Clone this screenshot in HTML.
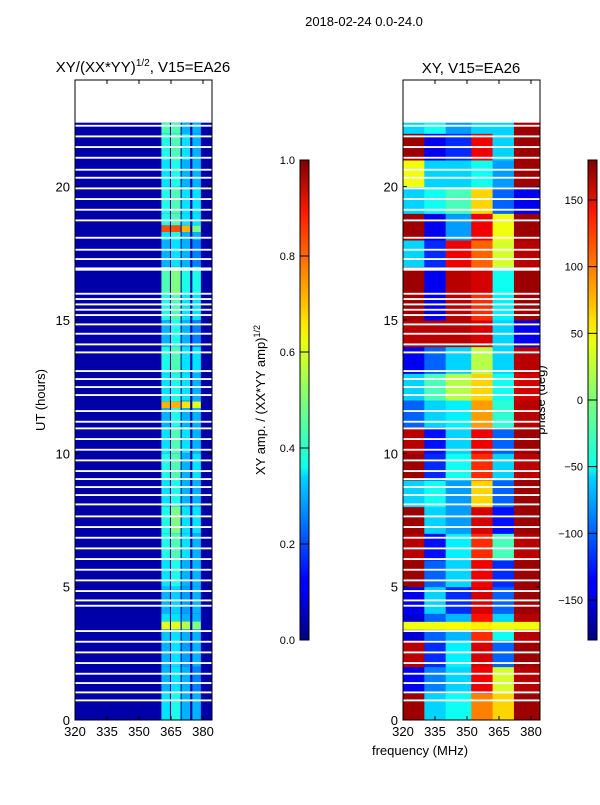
<!DOCTYPE html>
<html><head><meta charset="utf-8">
<style>
body{margin:0;background:#fff;font-family:"Liberation Sans",sans-serif;}
svg text{font-family:"Liberation Sans","DejaVu Sans",sans-serif;fill:#000;}
</style></head>
<body>
<svg id="fig" width="600" height="800" viewBox="0 0 600 800" xmlns="http://www.w3.org/2000/svg">
<defs>
<linearGradient id="jet" x1="0" y1="1" x2="0" y2="0">
<stop offset="0" stop-color="#00007f"/><stop offset="0.11" stop-color="#0000ff"/>
<stop offset="0.125" stop-color="#0000ff"/><stop offset="0.34" stop-color="#00d4ff"/>
<stop offset="0.36" stop-color="#0dffe9"/><stop offset="0.5" stop-color="#7dff7a"/>
<stop offset="0.62" stop-color="#e9ff0d"/><stop offset="0.66" stop-color="#ffe500"/>
<stop offset="0.89" stop-color="#ff1a00"/><stop offset="1" stop-color="#7f0000"/>
</linearGradient>
</defs>
<text x="364" y="26" font-size="13" text-anchor="middle">2018-02-24 0.0-24.0</text>
<text x="143" y="72" font-size="15" text-anchor="middle">XY/(XX*YY)<tspan font-size="10" dy="-6">1/2</tspan><tspan dy="6">, V15=EA26</tspan></text>
<text x="471" y="73" font-size="15" text-anchor="middle">XY, V15=EA26</text>
<text transform="translate(45,400) rotate(-90)" font-size="13" text-anchor="middle">UT (hours)</text>
<text transform="translate(265,400) rotate(-90)" font-size="13" text-anchor="middle">XY amp. / (XX*YY amp)<tspan font-size="9" dy="-5">1/2</tspan></text>
<text transform="translate(545,400) rotate(-90)" font-size="13" text-anchor="middle">phase (deg)</text>
<text x="420" y="755" font-size="13" text-anchor="middle">frequency (MHz)</text>
<g id="left"></g>
<g id="right"></g>
<g id="cb1"></g>
<g id="cb2"></g>
</svg>
<script>
// ---- data ----
const gapHours = [22.25,21.85,21.45,21.05,20.6,20.3,19.9,19.5,19.1,18.7,18.05,17.6,17.25,16.9,16.85,15.95,15.75,15.55,15.35,15.15,14.8,14.45,14.05,13.75,13.05,12.75,12.45,12.15,11.55,11.15,10.9,10.5,10.1,9.7,9.3,9.0,8.7,8.4,8.05,7.6,7.2,6.8,6.4,6.0,5.6,5.2,4.8,4.45,4.25,3.3,2.9,2.5,2.1,1.7,1.35,1.0,0.7];
const ampBandMHz = [[360.5,364.5],[365,369.5],[370,374],[375,379]];
const ampRowHours = [0,1,2,3,3.4,3.7,4,5,6,7,8,9,10,11,11.7,11.95,12,13,14,15,16,17,18,18.3,18.55,19,20,21,22];
const ampRowValues = [
 [0.35,0.4,0.3,0.3],[0.3,0.35,0.3,0.25],[0.3,0.35,0.28,0.3],[0.32,0.35,0.3,0.3],
 [0.6,0.6,0.55,0.5],[0.35,0.35,0.3,0.3],[0.3,0.33,0.28,0.3],[0.35,0.4,0.3,0.3],
 [0.4,0.45,0.35,0.3],[0.4,0.5,0.35,0.35],[0.35,0.4,0.3,0.3],[0.4,0.45,0.3,0.35],
 [0.35,0.45,0.35,0.3],[0.3,0.4,0.3,0.3],[0.7,0.7,0.65,0.6],[0.35,0.4,0.3,0.3],
 [0.35,0.4,0.35,0.3],[0.4,0.45,0.35,0.35],[0.3,0.4,0.3,0.25],[0.4,0.45,0.35,0.35],
 [0.45,0.5,0.4,0.4],[0.3,0.35,0.3,0.25],[0.35,0.4,0.3,0.3],[0.8,0.8,0.7,0.5],
 [0.4,0.45,0.35,0.35],[0.4,0.45,0.35,0.35],[0.35,0.4,0.3,0.3],[0.4,0.45,0.35,0.3],[0.45,0.45,0.3,0.3]];
const ampBackground = 0.04;
const phaseColMHz = [320,330,340,352,362,372,384.2];
const phaseRowHours = [0,1,2,3,3.4,3.7,4,5,6,7,8,9,10,11,12,13,14,15,16,17,18,19,20,21,22];
const phaseValues = [
 [170,-60,-40,90,60,170],[-140,-90,-60,140,30,160],[160,-120,-50,150,-100,170],
 [-150,-100,-70,120,-40,160],[40,40,45,50,40,40],[-150,-100,-70,130,-60,160],
 [-140,-60,-120,150,-100,170],[170,-100,-60,140,-120,170],[160,-130,-50,120,-20,160],
 [170,-60,-80,150,-130,170],[-60,-40,-80,60,-100,170],[170,-120,-40,120,-60,160],
 [160,-130,-60,140,-100,170],[-100,-60,-50,80,-30,160],[-60,-20,20,60,-40,150],
 [-140,-100,-60,20,-60,160],[160,160,160,150,-60,-140],[170,-140,160,120,-50,170],
 [170,-140,160,150,-40,170],[-60,-120,140,100,30,160],[170,-140,-80,140,40,170],
 [-60,-40,-20,60,-100,-140],[40,-60,-60,-40,-80,170],[170,-140,-120,140,-60,170],[-60,-40,-80,-60,-60,170]];
const dataTop = 22.4;
const xTicks = [320,335,350,365,380];
const yTicks = [0,5,10,15,20];
const ampTicks = [0.0,0.2,0.4,0.6,0.8,1.0];
const phaseTicks = [-150,-100,-50,0,50,100,150];

// ---- helpers ----
const NS="http://www.w3.org/2000/svg";
function jet(v){v=Math.max(0,Math.min(1,v));
 const f=(x)=>Math.max(0,Math.min(1,1.5-Math.abs(4*v-x)));
 return `rgb(${Math.round(255*f(3))},${Math.round(255*f(2))},${Math.round(255*f(1))})`;}
function mk(parent,tag,attrs){const e=document.createElementNS(NS,tag);for(const k in attrs)e.setAttribute(k,attrs[k]);parent.appendChild(e);return e;}
const Y0=720,Y1=80,HMAX=24;
const yS=h=>Y0-(h/HMAX)*(Y0-Y1);
function xS(x0){return m=>x0+(m-320)*(128/60);}
const xL=xS(75), xR=xS(403);
const PW=137;

function axes(g,x0,xs,pre){
 mk(g,'rect',{x:x0,y:Y1,width:PW,height:Y0-Y1,fill:'none',stroke:'#000','stroke-width':1});
 xTicks.forEach(t=>{const x=xs(t);
  const l=mk(g,'line',{x1:x,x2:x,y1:Y0,y2:Y0-4,stroke:'#000'});
  
  
  mk(g,'line',{x1:x,x2:x,y1:Y1,y2:Y1+4,stroke:'#000'});
  const tx=mk(g,'text',{x:x,y:Y0+16,'font-size':13,'text-anchor':'middle'});tx.textContent=t;
  
  
 });
 yTicks.forEach(t=>{const y=yS(t);
  mk(g,'line',{x1:x0,x2:x0+4,y1:y,y2:y,stroke:'#000'});
  mk(g,'line',{x1:x0+PW-4,x2:x0+PW,y1:y,y2:y,stroke:'#000'});
  const tx=mk(g,'text',{x:x0-5,y:y+5,'font-size':13,'text-anchor':'end'});tx.textContent=t;
  
  
 });
}
function gaps(g,x0){
 gapHours.forEach(h=>{const r=mk(g,'rect',{x:x0,y:yS(h+0.07),width:PW,height:Math.max(1.5,yS(h)-yS(h+0.07)),fill:'#fff'});
  
  });
}
// left amplitude panel
const L=document.getElementById('left');
const bg=mk(L,'rect',{x:75,y:yS(dataTop),width:PW,height:yS(0)-yS(dataTop),fill:jet(ampBackground)});


ampRowHours.forEach((h,i)=>{const h2=i+1<ampRowHours.length?ampRowHours[i+1]:dataTop;
 ampBandMHz.forEach((b,j)=>{const c=mk(L,'rect',{x:xL(b[0]),y:yS(h2),width:xL(b[1])-xL(b[0]),height:yS(h)-yS(h2),fill:jet(ampRowValues[i][j])});
  
  });
});
gaps(L,75);axes(L,75,xL,'amp');
// right phase panel
const R=document.getElementById('right');
phaseRowHours.forEach((h,i)=>{const h2=i+1<phaseRowHours.length?phaseRowHours[i+1]:dataTop;
 for(let j=0;j<phaseColMHz.length-1;j++){
  const c=mk(R,'rect',{x:xR(phaseColMHz[j]),y:yS(h2),width:xR(phaseColMHz[j+1])-xR(phaseColMHz[j])+0.5,height:yS(h)-yS(h2)+0.5,fill:jet((phaseValues[i][j]+180)/360)});
  
  }
});
gaps(R,403);axes(R,403,xR,'phase');
// colorbars
function cbar(g,x,ticks,lo,hi,pre){
 mk(g,'rect',{x:x,y:160,width:9,height:480,fill:'url(#jet)',stroke:'#000','stroke-width':1});
 ticks.forEach(t=>{const y=640-(t-lo)/(hi-lo)*480;
  mk(g,'line',{x1:x,x2:x+9,y1:y,y2:y,stroke:'#000'});
  const tx=mk(g,'text',{x:x-5,y:y+4,'font-size':11,'text-anchor':'end'});
  tx.textContent=pre==='amp'?t.toFixed(1):(t<0?'\u2212'+(-t):t);
  
  
 });
}
cbar(document.getElementById('cb1'),300,ampTicks,0,1,'amp');
cbar(document.getElementById('cb2'),588,phaseTicks,-180,180,'phase');
</script>
</body></html>
